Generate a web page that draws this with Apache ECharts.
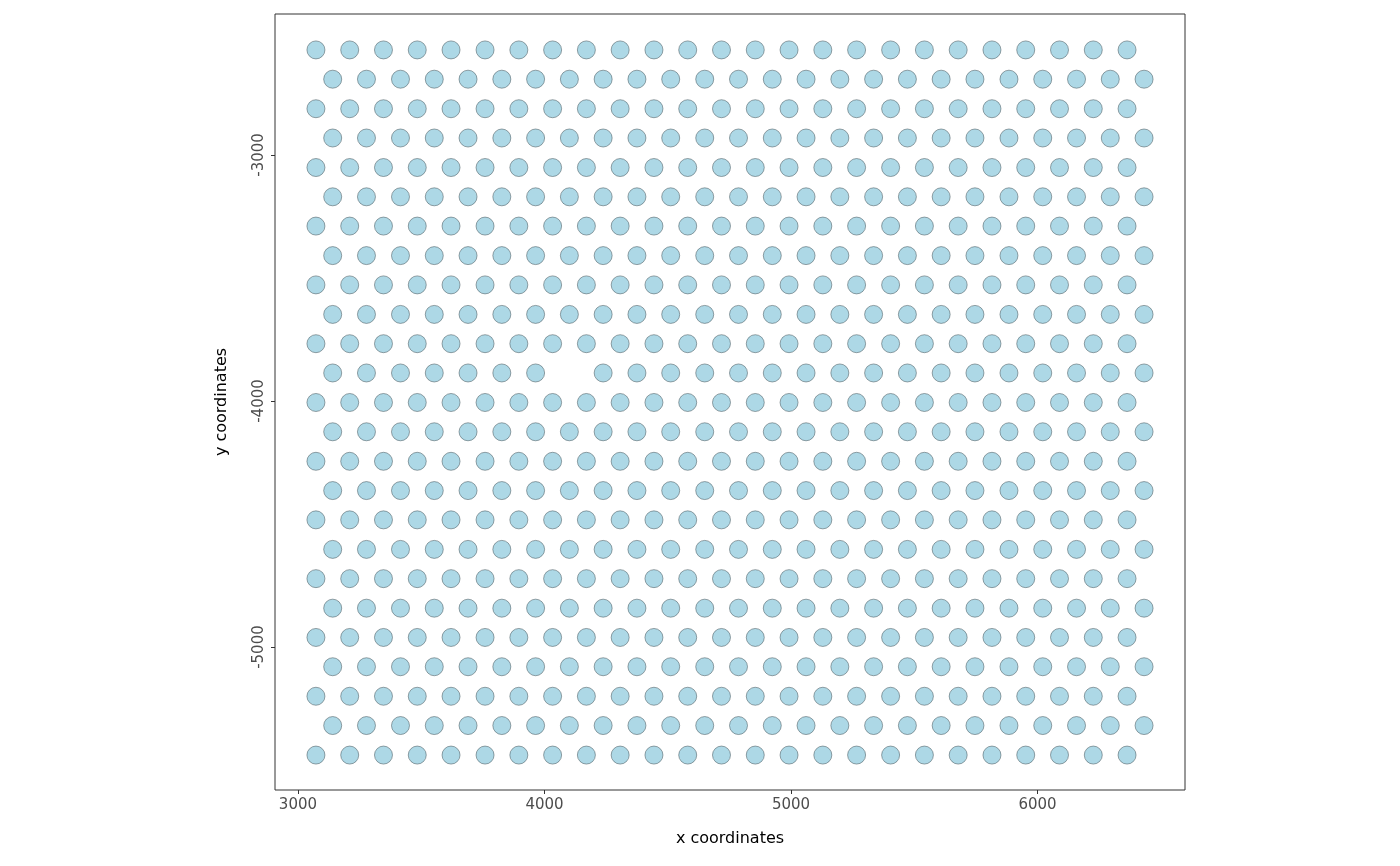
<!DOCTYPE html>
<html>
<head>
<meta charset="utf-8">
<script src="https://cdn.jsdelivr.net/npm/echarts@6/dist/echarts.min.js"></script>
<style>html,body{margin:0;padding:0;background:#fff}#chart{width:1400px;height:866px}</style>
</head>
<body>
<div id="chart"></div>
<script>
// spot centres: rows alternate between the two column sets
const colsEven = [3073,3210,3347,3484,3621,3759,3896,4033,4170,4307,4444,4581,4718,4855,4992,5129,5266,5404,5541,5678,5815,5952,6089,6226,6363];
const colsOdd = [3141,3278,3416,3553,3690,3827,3964,4101,4238,4375,4512,4650,4787,4924,5061,5198,5335,5472,5609,5746,5884,6021,6158,6295,6432];
const rowsY = [-2573,-2692,-2812,-2931,-3051,-3170,-3289,-3409,-3528,-3648,-3767,-3886,-4006,-4125,-4245,-4364,-4483,-4603,-4722,-4842,-4961,-5080,-5200,-5319,-5439];
const missing = [[4101, -3886]];
const xTicks = [3000, 4000, 5000, 6000];
const yTicks = [-3000, -4000, -5000];

const points = [];
rowsY.forEach((y, r) => {
  (r % 2 === 0 ? colsEven : colsOdd).forEach(x => {
    if (!missing.some(m => m[0] === x && m[1] === y)) points.push([x, y]);
  });
});

const font = "DejaVu Sans";
const chart = echarts.init(document.getElementById("chart"));
chart.setOption({
  animation: false,
  grid: { left: 275, right: 215, top: 14, bottom: 76, show: true, borderColor: "#333", borderWidth: 1 },
  xAxis: {
    type: "value", min: 2907, max: 6598,
    name: "x coordinates", nameLocation: "middle", nameGap: 41,
    nameTextStyle: { color: "#000", fontSize: 16, fontFamily: font },
    axisLine: { show: false },
    axisTick: { show: true, length: 4, lineStyle: { color: "#333" }, customValues: xTicks },
    axisLabel: { color: "#4d4d4d", fontSize: 15, fontFamily: font, margin: 8, customValues: xTicks, formatter: v => String(v) },
    splitLine: { show: false }
  },
  yAxis: {
    type: "value", min: -5581, max: -2427,
    name: "y coordinates", nameLocation: "middle", nameGap: 45,
    nameTextStyle: { color: "#000", fontSize: 16, fontFamily: font },
    axisLine: { show: false },
    axisTick: { show: true, length: 4, lineStyle: { color: "#333" }, customValues: yTicks },
    axisLabel: { color: "#4d4d4d", fontSize: 15, fontFamily: font, rotate: 90, margin: 8, customValues: yTicks, formatter: v => String(v) },
    splitLine: { show: false }
  },
  series: [{
    type: "scatter",
    data: points,
    symbolSize: 18,
    itemStyle: { color: "#add8e6", borderColor: "#3a4a50", borderWidth: 0.5, opacity: 1 }
  }]
});
</script>
</body>
</html>
